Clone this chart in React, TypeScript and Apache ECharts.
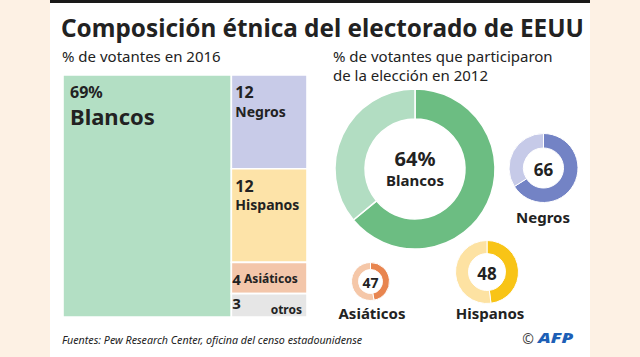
import React, { useEffect, useRef } from 'react';
import * as echarts from 'echarts';

// ---- data ----
const groups2016 = ['Blancos', 'Negros', 'Hispanos', 'Asiáticos', 'otros'];
const share2016 = [69, 12, 12, 4, 3];

const groups2012 = ['Blancos', 'Negros', 'Hispanos', 'Asiáticos'];
const turnout2012 = [64, 66, 48, 47];

const titleText = 'Composición étnica del electorado de EEUU';
const subLeft = '% de votantes en 2016';
const subRight1 = '% de votantes que participaron';
const subRight2 = 'de la elección en 2012';
const sourceText = 'Fuentes: Pew Research Center, oficina del censo estadounidense';

// ---- styles / layout ----
const FONT = 'Noto Sans';
const DARK = '#222222';
const cellColors = ['#b3dfc4', '#c8cbe8', '#fde3a8', '#f3c6aa', '#e6e6e6'];
const donutDark = ['#6cbd82', '#7383c5', '#f8c416', '#e8854f'];
const donutLight = ['#b2ddc2', '#c6cae8', '#fde2a2', '#f5c7a8'];
const donutCenters = [[415, 169], [543.5, 168], [487, 272], [370.5, 281.5]];
const donutRadii = [[50, 80], [20, 34.5], [18.5, 31.5], [12, 19]];
const donutNumSize = [20, 17, 17, 14];

function buildCells() {
  // first group spans full height on the left; the rest stack in a column
  const rest = share2016.slice(1).reduce((a, b) => a + b, 0);
  const cells: any[] = [];
  let cum = 0;
  share2016.forEach((v, i) => {
    if (i === 0) {
      cells.push({ name: groups2016[i], value: [0, v, 0, 100, v] });
    } else {
      const y0 = (cum / rest) * 100;
      cum += v;
      const y1 = (cum / rest) * 100;
      cells.push({ name: groups2016[i], value: [share2016[0], 100, y0, y1, v] });
    }
  });
  return cells;
}

export default function App() {
  const ref = useRef<HTMLDivElement>(null);
  useEffect(() => {
    if (!ref.current) return;
    const chart = echarts.init(ref.current, undefined, { renderer: 'svg' });
    const cells = buildCells();

    const renderItem = (params: any, api: any) => {
      const x0 = api.value(0), x1 = api.value(1), y0 = api.value(2), y1 = api.value(3), v = api.value(4);
      const p0 = api.coord([x0, y0]);
      const p1 = api.coord([x1, y1]);
      const i = params.dataIndex;
      const name = groups2016[i];
      const r = { x: p0[0], y: p0[1], width: p1[0] - p0[0], height: p1[1] - p0[1] };
      const children: any[] = [
        { type: 'rect', shape: r, style: { fill: cellColors[i], stroke: '#ffffff', lineWidth: 1.6 } },
      ];
      if (i === 0) {
        children.push({
          type: 'text', x: r.x + 7, y: r.y + 7,
          style: {
            text: `{n|${v}%}\n{l|${name}}`, fill: DARK, fontFamily: FONT,
            rich: {
              n: { fontSize: 16, fontWeight: 'bold', lineHeight: 20, fontFamily: FONT, fill: DARK },
              l: { fontSize: 22, fontWeight: 'bold', lineHeight: 28, fontFamily: FONT, fill: DARK },
            },
          },
        });
      } else if (i === 1 || i === 2) {
        children.push({
          type: 'text', x: r.x + 4, y: r.y + 7,
          style: {
            text: `{n|${v}}\n{l|${name}}`, fill: DARK, fontFamily: FONT,
            rich: {
              n: { fontSize: 16, fontWeight: 'bold', lineHeight: 20, fontFamily: FONT, fill: DARK },
              l: { fontSize: 14, fontWeight: 'bold', lineHeight: 18, fontFamily: FONT, fill: DARK },
            },
          },
        });
      } else if (i === 3) {
        children.push({
          type: 'text', x: r.x + 1, y: r.y + r.height / 2 + 1,
          style: {
            text: `{n|${v}} {l|${name}}`, fill: DARK, fontFamily: FONT, verticalAlign: 'middle',
            rich: {
              n: { fontSize: 15, fontWeight: 'bold', fontFamily: FONT, fill: DARK },
              l: { fontSize: 12, fontWeight: 'bold', fontFamily: FONT, fill: DARK },
            },
          },
        });
      } else {
        children.push({
          type: 'text', x: r.x + 1, y: r.y + 9,
          style: { text: `${v}`, fontSize: 15, fontWeight: 'bold', fontFamily: FONT, fill: DARK, verticalAlign: 'middle' },
        });
        children.push({
          type: 'text', x: r.x + r.width - 5, y: r.y + r.height / 2 + 4,
          style: { text: name, fontSize: 12, fontWeight: 'bold', fontFamily: FONT, fill: DARK, align: 'right', verticalAlign: 'middle' },
        });
      }
      return { type: 'group', children };
    };

    const pies = groups2012.map((g, i) => ({
      type: 'pie',
      name: g,
      center: donutCenters[i],
      radius: donutRadii[i],
      startAngle: 90,
      clockwise: true,
      silent: true,
      label: { show: false },
      labelLine: { show: false },
      itemStyle: { borderColor: '#ffffff', borderWidth: i === 0 ? 1.5 : 1 },
      data: [
        { name: g, value: turnout2012[i], itemStyle: { color: donutDark[i] } },
        { name: 'resto', value: 100 - turnout2012[i], itemStyle: { color: donutLight[i] } },
      ],
    }));

    const donutTexts: any[] = [];
    groups2012.forEach((g, i) => {
      const [cx, cy] = donutCenters[i];
      if (i === 0) {
        donutTexts.push({
          type: 'text', x: cx, y: cy - 11, z: 100,
          style: { text: `${turnout2012[i]}%`, fontSize: 20, fontWeight: 'bold', fontFamily: FONT, fill: DARK, align: 'center', verticalAlign: 'middle' },
        });
        donutTexts.push({
          type: 'text', x: cx, y: cy + 11, z: 100,
          style: { text: g, fontSize: 15, fontWeight: 'bold', fontFamily: FONT, fill: DARK, align: 'center', verticalAlign: 'middle' },
        });
      } else {
        donutTexts.push({
          type: 'text', x: cx, y: cy + 1, z: 100,
          style: { text: `${turnout2012[i]}`, fontSize: donutNumSize[i], fontWeight: 'bold', fontFamily: FONT, fill: DARK, align: 'center', verticalAlign: 'middle' },
        });
      }
    });
    // group names under small donuts
    const nameLabelPos = [null, [543, 217], [490, 312.5], [372, 312.5]];
    groups2012.forEach((g, i) => {
      const p = nameLabelPos[i];
      if (!p) return;
      donutTexts.push({
        type: 'text', x: p[0], y: p[1], z: 100,
        style: { text: g, fontSize: 15, fontWeight: 'bold', fontFamily: FONT, fill: DARK, align: 'center', verticalAlign: 'middle' },
      });
    });

    const option: any = {
      animation: false,
      textStyle: { fontFamily: FONT },
      grid: { left: 63, top: 75, width: 244, height: 242, containLabel: false },
      xAxis: { type: 'value', min: 0, max: 100, show: false },
      yAxis: { type: 'value', min: 0, max: 100, inverse: true, show: false },
      graphic: [
        { type: 'rect', z: -10, shape: { x: 0, y: 0, width: 640, height: 357 }, style: { fill: '#fdf1e4' } },
        { type: 'rect', z: -9, shape: { x: 50, y: 0, width: 540, height: 357 }, style: { fill: '#ffffff' } },
        { type: 'rect', z: -8, shape: { x: 50, y: 0, width: 540, height: 3 }, style: { fill: '#1a1a1a' } },
        {
          type: 'text', x: 61, y: 27, z: 100,
          style: { text: titleText, fontSize: 24.3, fontWeight: 'bold', fontFamily: FONT, fill: DARK, verticalAlign: 'middle' },
        },
        {
          type: 'text', x: 62, y: 56, z: 100,
          style: { text: subLeft, fontSize: 15, fontFamily: FONT, fill: DARK, verticalAlign: 'middle' },
        },
        {
          type: 'text', x: 333, y: 56, z: 100,
          style: { text: subRight1, fontSize: 15, fontFamily: FONT, fill: DARK, verticalAlign: 'middle' },
        },
        {
          type: 'text', x: 333, y: 74.5, z: 100,
          style: { text: subRight2, fontSize: 15, fontFamily: FONT, fill: DARK, verticalAlign: 'middle' },
        },
        {
          type: 'text', x: 62, y: 340, z: 100,
          style: { text: sourceText, fontSize: 10.7, fontStyle: 'italic', fontFamily: FONT, fill: DARK, verticalAlign: 'middle' },
        },
        {
          type: 'text', x: 528, y: 338, z: 100,
          style: { text: '©', fontSize: 14, fontFamily: FONT, fill: '#444444', align: 'center', verticalAlign: 'middle' },
        },
        {
          type: 'text', x: 538, y: 338, z: 100, scaleX: 1.35,
          style: { text: 'AFP', fontSize: 14, fontWeight: 900, fontStyle: 'italic', fontFamily: FONT, fill: '#1d5fb6', verticalAlign: 'middle' },
        },
        ...donutTexts,
      ],
      series: [
        {
          type: 'custom',
          coordinateSystem: 'cartesian2d',
          renderItem,
          encode: { x: [0, 1], y: [2, 3] },
          data: cells,
          silent: true,
        },
        ...pies,
      ],
    };
    chart.setOption(option);
    return () => chart.dispose();
  }, []);
  return <div ref={ref} style={{ position: 'absolute', left: 0, top: 0, width: 640, height: 357 }} />;
}
